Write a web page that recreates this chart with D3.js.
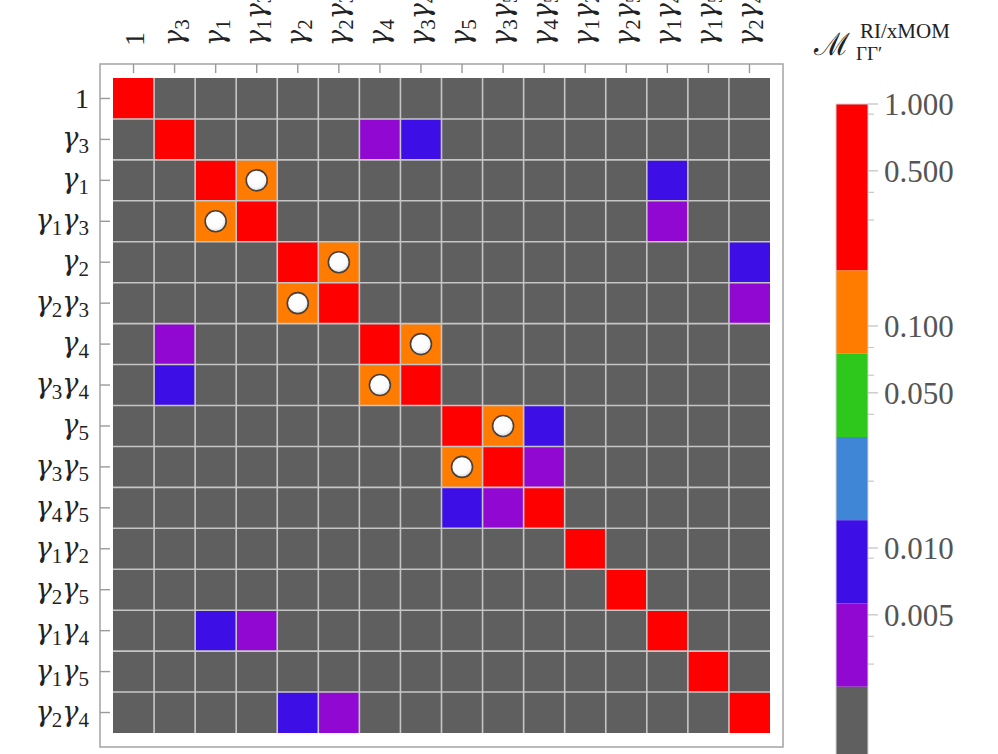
<!DOCTYPE html>
<html>
<head>
<meta charset="utf-8">
<script src="https://cdn.jsdelivr.net/npm/d3@7"></script>
<style>
  html, body { margin: 0; padding: 0; background: #fff; }
  svg { display: block; }
  text { font-family: "Liberation Serif", "DejaVu Serif", serif; }
</style>
</head>
<body>
<svg id="chart" width="998" height="754"></svg>
<script>
// Gamma-matrix basis used on both axes
const basis = ["1", "γ3", "γ1", "γ1γ3", "γ2", "γ2γ3", "γ4", "γ3γ4",
               "γ5", "γ3γ5", "γ4γ5", "γ1γ2", "γ2γ5", "γ1γ4", "γ1γ5", "γ2γ4"];

// Diagonal entries (one per basis element)
const diagonal = [1, 1, 1, 1, 1, 1, 1, 1, 1, 1, 1, 1, 1, 1, 1, 1];

// Off-diagonal entries: [row, column, magnitude]
const offDiagonal = [
  [1, 6, 0.004], [1, 7, 0.010],
  [2, 3, 0.12],  [2, 13, 0.010],
  [3, 2, 0.12],  [3, 13, 0.004],
  [4, 5, 0.12],  [4, 15, 0.010],
  [5, 4, 0.12],  [5, 15, 0.004],
  [6, 1, 0.004], [6, 7, 0.12],
  [7, 1, 0.010], [7, 6, 0.12],
  [8, 9, 0.12],  [8, 10, 0.010],
  [9, 8, 0.12],  [9, 10, 0.004],
  [10, 8, 0.010], [10, 9, 0.004],
  [13, 2, 0.010], [13, 3, 0.004],
  [15, 4, 0.010], [15, 5, 0.004]
];

// Entries flagged with a marker dot: [row, column]
const marked = [[2, 3], [3, 2], [4, 5], [5, 4], [6, 7], [7, 6], [8, 9], [9, 8]];

// Colour bins: edges on a log scale from 1 down to 0.001
const binEdges = [1, 0.17783, 0.07499, 0.03162, 0.01334, 0.005623, 0.002371, 0.001];
const binColors = ["#ff0000", "#ff7c00", "#2ec81c", "#3f86d6", "#3d0ee6", "#9108d3", "#5f5f5f"];

// Legend ticks
const legendMajor = [1, 0.5, 0.1, 0.05, 0.01, 0.005];
const legendMinor = [0.9, 0.4, 0.3, 0.08, 0.06, 0.04, 0.02, 0.009, 0.004, 0.003];

const svg = d3.select("#chart");

// ---- matrix ----
const x = d3.scaleBand().domain(d3.range(basis.length)).range([113, 770]);
const y = d3.scaleBand().domain(d3.range(basis.length)).range([78, 733]);

const color = d3.scaleThreshold()
  .domain(binEdges.slice(1, -1).slice().reverse())
  .range(binColors.slice().reverse());

const cells = [];
for (let r = 0; r < basis.length; r++)
  for (let c = 0; c < basis.length; c++)
    cells.push({ r, c, v: r === c ? diagonal[r] : 0 });
offDiagonal.forEach(([r, c, v]) => { cells[r * basis.length + c].v = v; });

svg.append("g").selectAll("rect").data(cells).join("rect")
  .attr("x", d => x(d.c))
  .attr("y", d => y(d.r))
  .attr("width", x.bandwidth())
  .attr("height", y.bandwidth())
  .attr("fill", d => color(d.v));

// mesh
const mesh = svg.append("g").attr("stroke", "#c6c6c6").attr("stroke-width", 1.6);
d3.range(1, basis.length).forEach(i => {
  mesh.append("line").attr("x1", x(i)).attr("x2", x(i)).attr("y1", y.range()[0]).attr("y2", y.range()[1]);
  mesh.append("line").attr("y1", y(i)).attr("y2", y(i)).attr("x1", x.range()[0]).attr("x2", x.range()[1]);
});

// marker dots
const defs = svg.append("defs");
const grad = defs.append("radialGradient").attr("id", "dotFill")
  .attr("cx", "45%").attr("cy", "40%").attr("r", "60%");
grad.append("stop").attr("offset", "0%").attr("stop-color", "#ffffff");
grad.append("stop").attr("offset", "70%").attr("stop-color", "#fbfbfb");
grad.append("stop").attr("offset", "100%").attr("stop-color", "#d8d8d8");

svg.append("g").selectAll("circle").data(marked).join("circle")
  .attr("cx", d => x(d[1]) + x.bandwidth() / 2)
  .attr("cy", d => y(d[0]) + y.bandwidth() / 2)
  .attr("r", 10.5)
  .attr("fill", "url(#dotFill)")
  .attr("stroke", "#4a4038")
  .attr("stroke-width", 1.6);

// frame
svg.append("rect")
  .attr("x", 100).attr("y", 64).attr("width", 683).attr("height", 683)
  .attr("fill", "none").attr("stroke", "#a9a9a9").attr("stroke-width", 1.6);

// inward ticks on top and left
const topAxis = d3.axisTop(x).tickSize(-9).tickFormat("");
svg.append("g").attr("transform", "translate(0,64)").call(topAxis)
  .call(g => g.select(".domain").remove())
  .call(g => g.selectAll("line").attr("stroke", "#9a9a9a").attr("stroke-width", 1.4));
const leftAxis = d3.axisLeft(y).tickSize(-10).tickFormat("");
svg.append("g").attr("transform", "translate(100,0)").call(leftAxis)
  .call(g => g.select(".domain").remove())
  .call(g => g.selectAll("line").attr("stroke", "#9a9a9a").attr("stroke-width", 1.4));

// label with gamma symbols and numeric subscripts
function writeLabel(sel, label) {
  if (label === "1") {
    sel.append("tspan").attr("font-size", 28).text("1");
    return;
  }
  const parts = label.match(/γ\d/g);
  parts.forEach((p, i) => {
    sel.append("tspan").attr("font-family", "DejaVu Serif").attr("font-size", 27)
      .attr("font-style", "italic")
      .attr("dy", i === 0 ? 0 : -6).text("γ");
    sel.append("tspan").attr("font-size", 21).attr("dy", 6).text(p[1]);
  });
}

const rowLabels = svg.append("g").attr("fill", "#222");
basis.forEach((lab, i) => {
  const t = rowLabels.append("text")
    .attr("x", 89)
    .attr("y", y(i) + y.bandwidth() / 2 + (lab === "1" ? 10 : 8))
    .attr("text-anchor", "end");
  writeLabel(t, lab);
});

const colLabels = svg.append("g").attr("fill", "#222");
basis.forEach((lab, i) => {
  const cx = x(i) + x.bandwidth() / 2;
  const t = colLabels.append("text")
    .attr("transform", `translate(${cx + (lab === "1" ? 10 : 8)},46) rotate(-90)`)
    .attr("text-anchor", "start");
  writeLabel(t, lab);
});

// ---- colour legend ----
const ly = d3.scaleLog().domain([1, 0.001]).range([104, 770]);
const legend = svg.append("g");
const bins = binColors.map((col, i) => ({ top: binEdges[i], bottom: binEdges[i + 1], col }));
legend.selectAll("rect").data(bins).join("rect")
  .attr("x", 836).attr("width", 32)
  .attr("y", d => ly(d.top))
  .attr("height", d => ly(d.bottom) - ly(d.top))
  .attr("fill", d => d.col);
legend.append("rect").attr("x", 836).attr("y", ly(1)).attr("width", 32)
  .attr("height", ly(0.001) - ly(1))
  .attr("fill", "none").attr("stroke", "#d4d4d4").attr("stroke-width", 1);

legend.selectAll("line.minor").data(legendMinor).join("line")
  .attr("class", "minor")
  .attr("x1", 868).attr("x2", 874)
  .attr("y1", d => ly(d)).attr("y2", d => ly(d))
  .attr("stroke", "#c8c8c8").attr("stroke-width", 1.2);
legend.selectAll("line.major").data(legendMajor).join("line")
  .attr("class", "major")
  .attr("x1", 868).attr("x2", 878)
  .attr("y1", d => ly(d)).attr("y2", d => ly(d))
  .attr("stroke", "#c0c0c0").attr("stroke-width", 1.2);
legend.selectAll("text").data(legendMajor).join("text")
  .attr("x", 884)
  .attr("y", d => ly(d) + 11)
  .attr("font-size", 31)
  .attr("fill", "#555")
  .text(d => d3.format(".3f")(d));

// legend title: script M with scheme superscript and ΓΓ′ subscript
const title = svg.append("g").attr("fill", "#222");
title.append("text").attr("x", 814).attr("y", 55)
  .attr("font-family", "DejaVu Serif")
  .attr("font-size", 31).text("ℳ");
title.append("text").attr("x", 860).attr("y", 38)
  .attr("font-size", 21).text("RI/xMOM");
title.append("text").attr("x", 856).attr("y", 60)
  .attr("font-size", 19).text("ΓΓ′");
</script>
</body>
</html>
